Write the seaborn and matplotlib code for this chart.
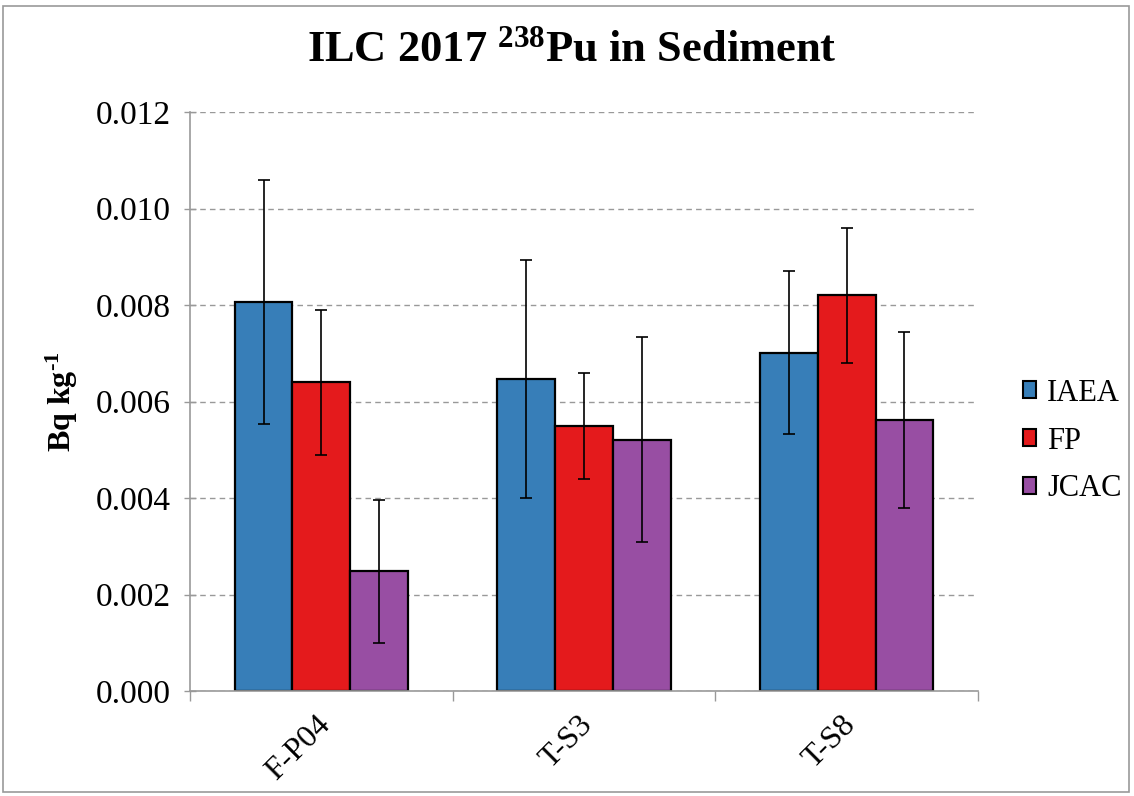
import matplotlib
matplotlib.use("Agg")
import matplotlib.pyplot as plt
from matplotlib.patches import Rectangle, Patch
from matplotlib.ticker import FormatStrFormatter, FixedLocator
from matplotlib.transforms import ScaledTranslation
import numpy as np
import pandas as pd
import seaborn as sns

# Samples, laboratories and measured activity (Bq/kg) with uncertainties
samples = ["F-P04", "T-S3", "T-S8"]
labs = ["IAEA", "FP", "JCAC"]
iaea = [0.00807, 0.00647, 0.00701]
fp = [0.00640, 0.00550, 0.00820]
jcac = [0.00248, 0.00521, 0.00562]
iaea_unc = [0.00253, 0.00246, 0.00169]
fp_unc = [0.00150, 0.00110, 0.00140]
jcac_unc = [0.00148, 0.00212, 0.00182]
yticks = [0.000, 0.002, 0.004, 0.006, 0.008, 0.010, 0.012]

colors = {"IAEA": "#377EB8", "FP": "#E41A1C", "JCAC": "#984EA3"}

values = {"IAEA": iaea, "FP": fp, "JCAC": jcac}
uncs = {"IAEA": iaea_unc, "FP": fp_unc, "JCAC": jcac_unc}
df = pd.DataFrame(
    [(s, lab, values[lab][i], uncs[lab][i])
     for lab in labs for i, s in enumerate(samples)],
    columns=["sample", "lab", "value", "unc"],
)

sns.set_theme(style="white")
plt.rcParams["font.family"] = ["Liberation Serif", "DejaVu Serif"]
plt.rcParams["text.color"] = "black"
plt.rcParams["xtick.color"] = "black"
plt.rcParams["ytick.color"] = "black"
plt.rcParams["mathtext.fontset"] = "custom"
plt.rcParams["mathtext.rm"] = "Liberation Serif"
plt.rcParams["mathtext.bf"] = "Liberation Serif:bold"
plt.rcParams["mathtext.it"] = "Liberation Serif:italic"

fig = plt.figure(figsize=(11.34, 7.96), dpi=100)
fig.patch.set_facecolor("white")
ax = fig.add_axes([190 / 1134, 1 - 691 / 796, (978 - 190) / 1134, (691 - 112) / 796])

sns.barplot(
    data=df, x="sample", y="value", hue="lab", order=samples, hue_order=labs,
    palette=colors, width=0.66, edgecolor="black", linewidth=1.6,
    saturation=1, errorbar=None, ax=ax,
)

# Uncertainty bars placed at the centre of each drawn bar
for lab, cont in zip(labs, ax.containers):
    xs = [p.get_x() + p.get_width() / 2 for p in cont.patches]
    ys = [p.get_height() for p in cont.patches]
    ax.errorbar(xs, ys, yerr=uncs[lab], fmt="none", ecolor="black",
                elinewidth=1.2, capsize=4.5, capthick=1.2, zorder=5)

ax.set_ylim(0, 0.012)
ax.set_xlim(-0.5, 2.5)
ax.yaxis.set_major_locator(FixedLocator(yticks))
ax.yaxis.set_major_formatter(FormatStrFormatter("%.3f"))
ax.grid(axis="y", color="#999999", linestyle=(0, (4, 3)), linewidth=1.0)
ax.set_axisbelow(True)
for side in ["top", "right"]:
    ax.spines[side].set_visible(False)
for side in ["left", "bottom"]:
    ax.spines[side].set_color("#999999")
    ax.spines[side].set_linewidth(1.2)

ax.tick_params(axis="y", which="major", direction="inout", length=8,
               color="#999999", width=1.0, labelsize=24, pad=10, left=True,
               labelcolor="black")
ax.set_xticks(range(len(samples)))
ax.set_xticklabels(samples, rotation=45, ha="right", rotation_mode="anchor")
ax.tick_params(axis="x", which="major", length=0, labelsize=23, pad=14,
               labelcolor="black")
shift = ScaledTranslation(-6 / 100, 0, fig.dpi_scale_trans)
for lbl in ax.get_xticklabels():
    lbl.set_transform(lbl.get_transform() + shift)
ax.set_xticks([-0.5, 0.5, 1.5, 2.5], minor=True)
ax.tick_params(axis="x", which="minor", direction="out", length=7,
               color="#999999", width=1.0, bottom=True)
ax.set_xlabel("")
ax.set_ylabel("")

fig.text(62 / 1134, 1 - 402 / 796, r"Bq kg$^{\mathbf{\text{-}1}}$", rotation=90,
         fontsize=23, fontweight="bold", ha="center", va="center")
fig.text(572 / 1134, 1 - 50 / 796, r"ILC 2017 $^{\mathbf{238}}$Pu in Sediment",
         fontsize=32, fontweight="bold", ha="center", va="center")

handles = [Patch(facecolor=colors[l], edgecolor="black", linewidth=1.5) for l in labs]
if ax.get_legend() is not None:
    ax.get_legend().remove()
fig.legend(handles, labs, loc="center left",
           bbox_to_anchor=(995 / 1134, 1 - 441 / 796), frameon=False,
           fontsize=22, handlelength=0.45, handleheight=0.45,
           handletextpad=0.35, labelspacing=0.62)

# Outer chart border
fig.add_artist(Rectangle((3 / 1134, 4 / 796), 1126 / 1134, 786 / 796,
                         transform=fig.transFigure, fill=False,
                         edgecolor="#999999", linewidth=1.2))

fig.savefig("out.png", dpi=100)
